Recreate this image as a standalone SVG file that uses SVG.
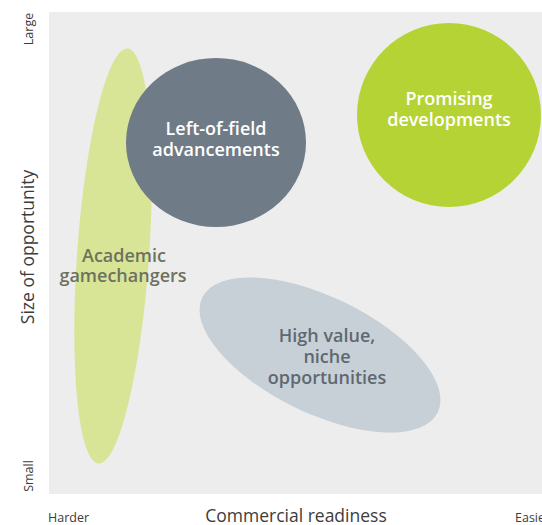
<svg xmlns="http://www.w3.org/2000/svg" width="542" height="525" viewBox="0 0 542 525">
<style>
.lbl{font-family:"Open Sans","Liberation Sans",sans-serif;font-weight:600;font-size:18px;text-anchor:middle}
.ax{font-family:"Open Sans","Liberation Sans",sans-serif;fill:#3c3c3c}
.small{font-size:12.5px}
.big{font-size:17.5px}
</style>
<rect x="49" y="12" width="493" height="482" fill="#ededed"/>
<g id="academic">
<ellipse cx="113" cy="256" rx="36" ry="208" transform="rotate(4 113 256)" fill="#d8e596"/>
</g>
<g id="leftfield">
<ellipse cx="216" cy="142.5" rx="90" ry="84.5" fill="#6f7b87"/>
<text class="lbl" fill="#ffffff" x="216" y="135">Left-of-field</text>
<text class="lbl" fill="#ffffff" x="216" y="156">advancements</text>
</g>
<g id="academic-label">
<text class="lbl" fill="#6d725f" x="124" y="262">Academic</text>
<text class="lbl" fill="#6d725f" x="123" y="282">gamechangers</text>
</g>
<g id="promising">
<circle cx="449" cy="115" r="92" fill="#b5d334"/>
<text class="lbl" fill="#ffffff" x="449" y="105">Promising</text>
<text class="lbl" fill="#ffffff" x="449" y="126">developments</text>
</g>
<g id="highvalue">
<ellipse cx="320" cy="355" rx="131" ry="58" transform="rotate(26 320 355)" fill="#c7d0d6"/>
<text class="lbl" fill="#5f6871" x="327" y="342">High value,</text>
<text class="lbl" fill="#5f6871" x="327" y="363">niche</text>
<text class="lbl" fill="#5f6871" x="327" y="384">opportunities</text>
</g>
<g id="connectors"></g>
<g id="axes">
<text class="ax small" transform="translate(33 29) rotate(-90)" text-anchor="middle">Large</text>
<text class="ax small" transform="translate(33 476) rotate(-90)" text-anchor="middle">Small</text>
<text class="ax big" transform="translate(34 247) rotate(-90)" text-anchor="middle">Size of opportunity</text>
<text class="ax small" x="48" y="522">Harder</text>
<text class="ax big" x="296" y="522" text-anchor="middle">Commercial readiness</text>
<text class="ax small" x="515" y="522">Easier</text>
</g>
</svg>
